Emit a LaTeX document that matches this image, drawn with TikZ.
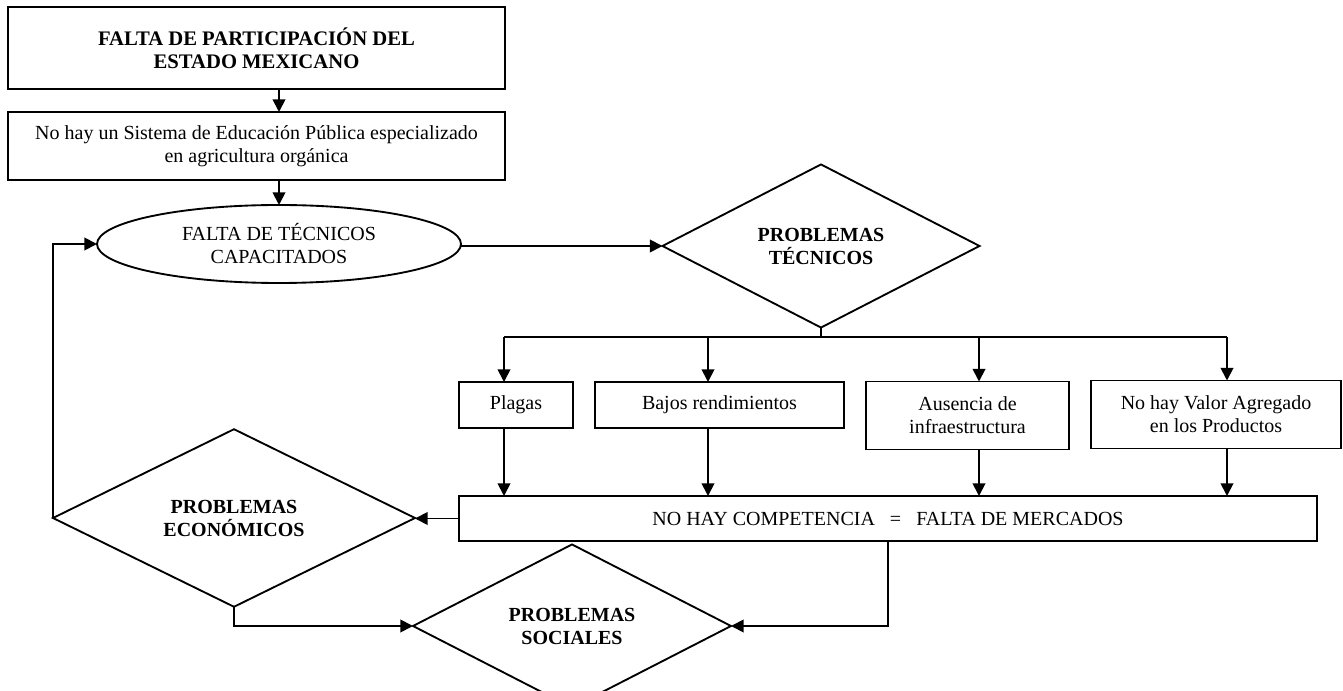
\documentclass[tikz,border=0pt]{standalone}
\usepackage{fontspec}
\setmainfont{Liberation Serif}
\usetikzlibrary{shapes.geometric,arrows.meta}
\newcommand\fsz{\fontsize{15pt}{17.25pt}\selectfont}
\newcommand\fszb{\fontsize{15.5pt}{17.5pt}\selectfont}
\newcommand\pxu{0.75pt}
\begin{document}
\begin{tikzpicture}[x=0.75pt,y=-0.75pt,
  every node/.style={inner sep=0pt,outer sep=0pt,align=center,font=\fsz},
  rbox/.style={draw,line width=1.4pt,rectangle},
  dia/.style={draw,line width=1.4pt,diamond,font=\fsz\bfseries},
  conn/.style={line width=1.4pt},
  arr/.style={line width=1.4pt,-{Triangle[length=9.5pt,width=9.5pt]}}]
\useasboundingbox (0,0) rectangle (1343,691);
% nodes
\node[rbox,minimum width=497*\pxu,minimum height=82*\pxu,font=\fszb\bfseries] (b1) at (256.5,48) {FALTA DE PARTICIPACIÓN DEL\\ESTADO MEXICANO};
\node[rbox,minimum width=497*\pxu,minimum height=68*\pxu] (b2) at (256.5,146) {No hay un Sistema de Educación Pública especializado\\en agricultura orgánica};
\node[draw,line width=1.4pt,ellipse,minimum width=364*\pxu,minimum height=78*\pxu] (ell) at (279,244) {FALTA DE TÉCNICOS\\CAPACITADOS};
\node[dia,minimum width=317*\pxu,minimum height=136*\pxu] (tech) at (821,246) {PROBLEMAS\\TÉCNICOS};
\node[rbox,minimum width=114*\pxu,minimum height=46*\pxu] (plag) at (516,405) {Plagas};
\node[rbox,minimum width=249*\pxu,minimum height=46*\pxu] (bajo) at (719.5,405) {Bajos rendimientos};
\node[rbox,minimum width=203*\pxu,minimum height=68*\pxu] (ause) at (967.5,415.5) {Ausencia de\\infraestructura};
\node[rbox,minimum width=250*\pxu,minimum height=68*\pxu] (valo) at (1216,414.5) {No hay Valor Agregado\\en los Productos};
\node[rbox,minimum width=858*\pxu,minimum height=45*\pxu] (mkt) at (888,518.5) {NO HAY COMPETENCIA\hspace{0.75em}=\hspace{0.75em}FALTA DE MERCADOS};
\node[dia,minimum width=362*\pxu,minimum height=136*\pxu] (econ) at (234,518) {PROBLEMAS\\ECONÓMICOS};
\node[dia,minimum width=318*\pxu,minimum height=138*\pxu] (soc) at (572,626) {PROBLEMAS\\SOCIALES};
% bus coordinates
\coordinate (c1) at (504,337);
\coordinate (c2) at (708,337);
\coordinate (c3) at (979,337);
\coordinate (c4) at (1227,337);
% connectors
\draw[arr] (ell.north |- b1.south) -- (ell.north |- b2.north);
\draw[arr] (ell.north |- b2.south) -- (ell.north);
\draw[arr] (ell.east |- tech.west) -- (tech.west);
\draw[conn] (tech.south) -- (tech.south |- c1);
\draw[conn] (c1) -- (c4);
\draw[arr] (c1) -- (c1 |- plag.north);
\draw[arr] (c2) -- (c2 |- bajo.north);
\draw[arr] (c3) -- (c3 |- ause.north);
\draw[arr] (c4) -- (c4 |- valo.north);
\draw[arr] (c1 |- plag.south) -- (c1 |- mkt.north);
\draw[arr] (c2 |- bajo.south) -- (c2 |- mkt.north);
\draw[arr] (c3 |- ause.south) -- (c3 |- mkt.north);
\draw[arr] (c4 |- valo.south) -- (c4 |- mkt.north);
\draw[arr] (mkt.west) -- (mkt.west -| econ.east);
\draw[arr] (mkt.south) |- (soc.east);
\draw[arr] (econ.south) |- (soc.west);
\draw[arr] (econ.west) |- (ell.west);
\end{tikzpicture}
\end{document}
